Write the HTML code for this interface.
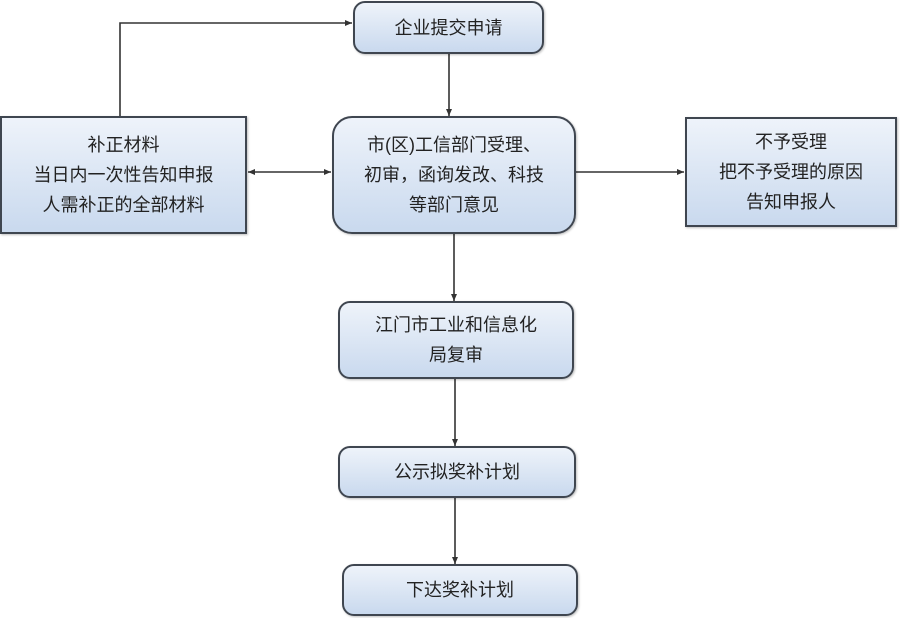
<!DOCTYPE html>
<html><head><meta charset="utf-8"><style>
body{margin:0;width:900px;height:618px;background:#fff;position:relative;overflow:hidden;font-family:"Liberation Sans","Noto Sans CJK SC",sans-serif;}
.b{position:absolute;box-sizing:border-box;border:2px solid #3f4650;background:linear-gradient(#eef3fa,#c9d9ee);color:#222;font-size:18px;line-height:30px;text-align:center;display:flex;align-items:center;justify-content:center;box-shadow:1px 1px 2px rgba(0,0,0,.25);}
.r{border-radius:12px}
svg{position:absolute;left:0;top:0}
</style></head><body>
<svg width="900" height="618">
<defs><marker id="a" markerWidth="8" markerHeight="8" refX="7" refY="4" orient="auto" markerUnits="userSpaceOnUse"><path d="M0,1 L7,4 L0,7z" fill="#333"/></marker>
<marker id="s" markerWidth="8" markerHeight="8" refX="0" refY="4" orient="auto" markerUnits="userSpaceOnUse"><path d="M7,1 L0,4 L7,7z" fill="#333"/></marker></defs>
<g stroke="#333" stroke-width="1.6" fill="none">
<polyline points="120,116 120,23 352,23" marker-end="url(#a)"/>
<line x1="449" y1="54" x2="449" y2="116" marker-end="url(#a)"/>
<line x1="248" y1="172" x2="331" y2="172" marker-start="url(#s)" marker-end="url(#a)"/>
<line x1="576" y1="172" x2="684" y2="172" marker-end="url(#a)"/>
<line x1="454" y1="234" x2="454" y2="301" marker-end="url(#a)"/>
<line x1="455" y1="378" x2="455" y2="446" marker-end="url(#a)"/>
<line x1="455" y1="497" x2="455" y2="564" marker-end="url(#a)"/>
</g></svg>
<div class="b r" style="left:353px;top:1px;width:191px;height:53px">企业提交申请</div>
<div class="b" style="left:0;top:116px;width:247px;height:118px">补正材料<br>当日内一次性告知申报<br>人需补正的全部材料</div>
<div class="b r" style="left:332px;top:116px;width:244px;height:118px;border-radius:20px">市(区)工信部门受理、<br>初审，函询发改、科技<br>等部门意见</div>
<div class="b" style="left:685px;top:117px;width:212px;height:110px">不予受理<br>把不予受理的原因<br>告知申报人</div>
<div class="b r" style="left:338px;top:301px;width:236px;height:78px">江门市工业和信息化<br>局复审</div>
<div class="b r" style="left:338px;top:446px;width:238px;height:52px">公示拟奖补计划</div>
<div class="b r" style="left:342px;top:564px;width:236px;height:52px">下达奖补计划</div>
</body></html>
